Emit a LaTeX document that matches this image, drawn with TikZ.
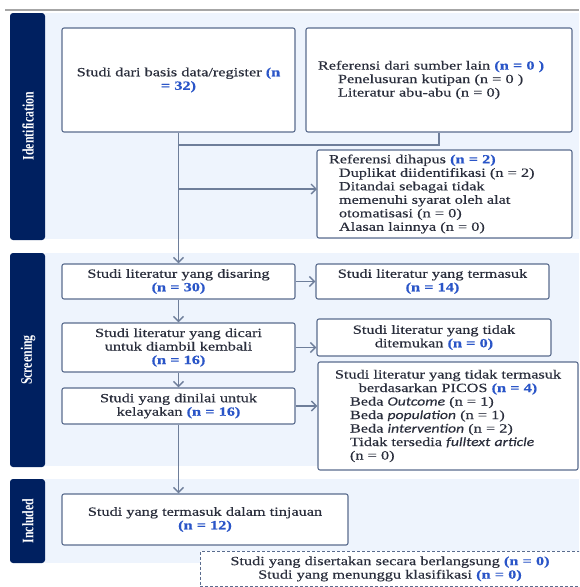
\documentclass[tikz,border=0pt]{standalone}
\usepackage{fontspec}
\setmainfont{Liberation Serif}[FakeStretch=1.3, FakeBold=0.4]
\newfontfamily\lanefont{Liberation Serif}[FakeStretch=0.74]
\newfontfamily\itsans{Carlito}[FakeStretch=1.25, FakeBold=0.3]
\usetikzlibrary{arrows.meta, calc}

\definecolor{bandblue}{HTML}{002060}
\definecolor{lanebg}{HTML}{EEF4FD}
\definecolor{boxline}{HTML}{5A6C8E}
\definecolor{linkline}{HTML}{6E7E9A}
\definecolor{txt}{HTML}{2A2E3C}
\definecolor{nblue}{HTML}{2A55C8}

\newcommand{\nb}[1]{{\color{nblue}\bfseries #1}}
\newcommand{\emsans}[1]{{\itsans\itshape #1}}

\tikzset{
  box/.style={draw=boxline, fill=white, line width=1.1pt, rounded corners=2pt,
    inner xsep=6pt, inner ysep=2pt, align=center, text=txt,
    font=\fontsize{12.5}{13.5}\selectfont},
  lanelabel/.style={rotate=90, text=white, font=\lanefont\bfseries\fontsize{16}{16}\selectfont},
  link/.style={draw=linkline, line width=1.4pt},
}

\begin{document}
\begin{tikzpicture}[>={Straight Barb[length=5pt,width=10pt]}, x=1pt, y=-1pt]
    \useasboundingbox (0,0) rectangle (579,587);
    \clip (0,0) rectangle (579,587);

    % Garis atas
    \draw[line width=1.8pt, black!35] (5,10) -- (579,10);

    % Lajur: Identification, Screening, Included
    \fill[lanebg] (45,13) rectangle (579,239);
    \fill[bandblue, rounded corners=3pt] (10,13) rectangle (45,240);
    \fill[lanebg] (45,253) rectangle (579,466);
    \fill[bandblue, rounded corners=3pt] (10,253) rectangle (45,467);
    \fill[lanebg] (45,479) rectangle (579,563);
    \fill[bandblue, rounded corners=3pt] (10,479) rectangle (45,563);
    \node[lanelabel] (lid) at (28,126) {Identification};
    \node[lanelabel] (lscr) at (28,360) {Screening};
    \node[lanelabel] (linc) at (28,521) {Included};

    % Identifikasi
    \node[box, text width=221pt, minimum height=104pt] (db) at (178.5,80)
        {Studi dari basis data/register \nb{(n}\\ \nb{= 32)}};
    \node[box, align=left, inner xsep=12pt, text width=242pt, minimum height=104pt] (ref) at (439,80)
        {Referensi dari sumber lain \nb{(n = 0 )}\\
         \hspace*{20pt}Penelusuran kutipan (n = 0 )\\
         \hspace*{20pt}Literatur abu-abu (n = 0)};
    \node[box, align=left, inner xsep=12pt, text width=231pt, minimum height=88pt] (rem) at (444.5,194)
        {Referensi dihapus \nb{(n = 2)}\\
         \hspace*{10pt}Duplikat diidentifikasi (n = 2)\\
         \hspace*{10pt}Ditandai sebagai tidak\\
         \hspace*{10pt}memenuhi syarat oleh alat\\
         \hspace*{10pt}otomatisasi (n = 0)\\
         \hspace*{10pt}Alasan lainnya (n = 0)};

    % Penyaringan
    \node[box, text width=221pt, minimum height=35pt] (scr) at (178.5,281.5)
        {Studi literatur yang disaring\\ \nb{(n = 30)}};
    \node[box, text width=221pt, minimum height=35pt] (inc14) at (432.5,281.5)
        {Studi literatur yang termasuk\\ \nb{(n = 14)}};
    \node[box, text width=221pt, minimum height=49pt] (ret) at (178.5,347.5)
        {Studi literatur yang dicari\\ untuk diambil kembali\\ \nb{(n = 16)}};
    \node[box, text width=222pt, minimum height=37pt] (nf) at (434,337.5)
        {Studi literatur yang tidak\\ ditemukan \nb{(n = 0)}};
    \node[box, text width=221pt, minimum height=36pt] (elig) at (178.5,406)
        {Studi yang dinilai untuk\\ kelayakan \nb{(n = 16)}};
    \node[box, align=left, inner xsep=8pt, text width=244pt, minimum height=108pt] (picos) at (448,416)
        {{\centering Studi literatur yang tidak termasuk\\ berdasarkan PICOS \nb{(n = 4)}\par}
         {\leftskip=24pt\relax
          Beda \emsans{Outcome} (n = 1)\\
          Beda \emsans{population} (n = 1)\\
          Beda \emsans{intervention} (n = 2)\\
          Tidak tersedia \emsans{fulltext article}\\
          (n = 0)\par}};

    % Termasuk
    \node[box, text width=274pt, minimum height=51pt] (incl) at (205,519.5)
        {Studi yang termasuk dalam tinjauan\\ \nb{(n = 12)}};
    \node[box, dashed, dash pattern=on 3pt off 2pt, line width=0.9pt, rounded corners=0pt,
          text width=368pt, inner ysep=5pt, anchor=north] (ongo) at (390,551)
        {Studi yang disertakan secara berlangsung \nb{(n = 0)}\\
         Studi yang menunggu klasifikasi \nb{(n = 0)}};

    % Penghubung
    \coordinate (j1) at (178.5,145);
    \coordinate (remin) at (317,189);
    \draw[link] (ref.south) |- (j1);
    \draw[link, ->] (db) -- (scr);
    \draw[link, ->] (db.south |- remin) -- (remin);
    \draw[link, ->] (scr) -- (inc14);
    \draw[link, ->] (scr) -- (ret);
    \draw[link, ->] (ret) -- (elig);
    \draw[link, ->] (ret.east) -- (ret.east -| nf.west);
    \draw[link, ->] (elig.east) -- (elig.east -| picos.west);
    \draw[link, ->] (elig.south) -- (elig.south |- incl.north);
\end{tikzpicture}
\end{document}
